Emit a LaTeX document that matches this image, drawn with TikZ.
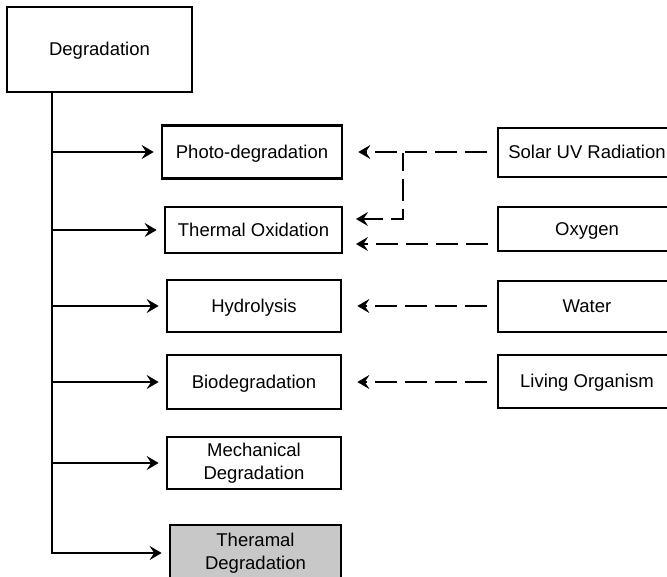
\documentclass[tikz,border=0pt]{standalone}
\usepackage{fontspec}
\setmainfont{Liberation Sans}
\usetikzlibrary{arrows.meta}
\begin{document}
\begin{tikzpicture}[x=1pt,y=-1pt,
  box/.style={draw=black, line width=2.7pt, fill=white, align=center,
    inner sep=0pt, font=\fontsize{18.5}{23}\selectfont},
  one line/.style={text height=13pt, text depth=0pt},
  tip/.style={-{Stealth[length=12pt,width=14pt,inset=4.5pt]}},
  solid arrow/.style={line width=2.8pt, tip, shorten >=7pt},
  dash arrow/.style={line width=2.8pt, dash pattern=on 22pt off 8pt,
    tip, shorten <=10pt, shorten >=15pt}]
\useasboundingbox (0,0) rectangle (667,577);

% root
\node[box, one line, minimum width=185pt, minimum height=85pt] (deg) at (99.5,49.5) {Degradation};

% degradation modes
\node[box, one line, minimum width=180pt, minimum height=53pt] (photo) at (252,152) {Photo-degradation};
\node[box, one line, minimum width=177pt, minimum height=46pt] (thox) at (253.5,230) {Thermal Oxidation};
\node[box, one line, minimum width=174pt, minimum height=52pt] (hydro) at (254,306) {Hydrolysis};
\node[box, one line, minimum width=174pt, minimum height=54pt] (bio) at (254,382) {Biodegradation};
\node[box, minimum width=174pt, minimum height=52pt] (mech) at (254,463) {Mechanical\\Degradation};
\node[box, fill={rgb,255:red,200;green,200;blue,200}, minimum width=171pt, minimum height=56pt] (therm) at (255.5,553) {Theramal\\Degradation};

% agents
\node[box, one line, minimum width=178pt, minimum height=49pt] (solar) at (587,152.5) {Solar UV Radiation};
\node[box, one line, minimum width=178pt, minimum height=44pt] (oxy) at (587,229) {Oxygen};
\node[box, one line, minimum width=178pt, minimum height=51pt] (water) at (587,306.5) {Water};
\node[box, one line, minimum width=178pt, minimum height=53pt] (living) at (587,381.5) {Living Organism};

% trunk and branches
\coordinate (trunk) at (52,92);
\draw[solid arrow] (trunk) |- (therm.west);
\foreach \n in {photo,thox,hydro,bio,mech}
  \draw[solid arrow] (trunk |- \n.west) -- (\n.west);

% agent influences
\coordinate (thoxA) at (341,219);
\coordinate (thoxB) at (341,244);
\coordinate (oxyB) at (498,244);
\coordinate (split) at (403,153);
\draw[dash arrow] (solar.west |- photo.east) -- (photo.east);
\draw[line width=2.8pt, dash pattern=on 22pt off 8pt, dash phase=4pt,
  tip, shorten >=15pt] (split) |- (thoxA);
\draw[dash arrow] (oxyB) -- (thoxB);
\draw[dash arrow] (water.west |- hydro.east) -- (hydro.east);
\draw[dash arrow] (living.west |- bio.east) -- (bio.east);
\end{tikzpicture}
\end{document}
